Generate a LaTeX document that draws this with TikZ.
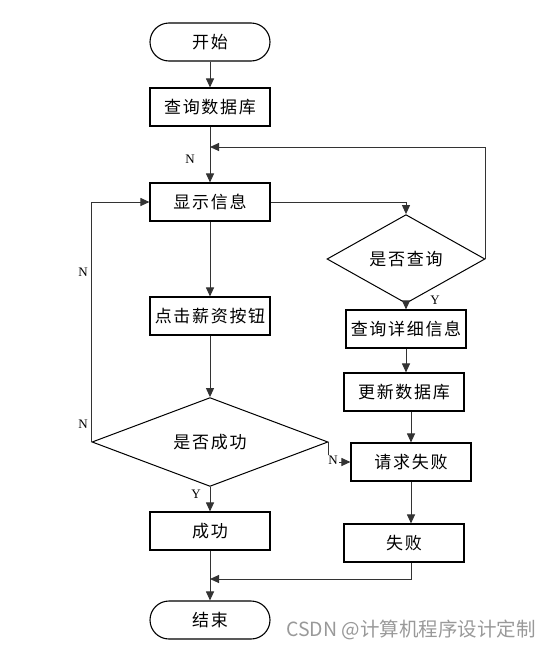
\documentclass[tikz,border=0pt]{standalone}
\usepackage{fontspec}
\setmainfont{Liberation Serif}
\newfontfamily\cjk[LetterSpace=10]{Noto Sans CJK SC}
\newfontfamily\cjkmark{Noto Sans CJK SC}
\usetikzlibrary{shapes.geometric, arrows.meta, positioning}

\tikzset{
  box/.style={draw=black, line width=1.1pt, minimum width=120pt, minimum height=38pt, inner sep=0pt, font=\cjk\fontsize{17}{20}\selectfont},
  term/.style={box, rounded corners=19pt},
  decision/.style={draw=black, line width=1pt, diamond, minimum width=236pt, minimum height=62pt, inner sep=0pt, font=\cjk\fontsize{17}{20}\selectfont},
  line/.style={draw=black!80, line width=1pt, -{Triangle[length=9pt, width=8pt]}},
  lbl/.style={inner sep=1pt, font=\fontsize{13}{15}\selectfont}
}

\begin{document}
\begin{tikzpicture}[x=1pt, y=-1pt]
\useasboundingbox (0,0) rectangle (551,648);
\node[term] (start) at (210,42) {开始};
\node[box] (query) at (210,107) {查询数据库};
\node[box] (show) at (210,202) {显示信息};
\node[box] (click) at (210,316) {点击薪资按钮};
\node[decision] (ok) at (210,442) {是否成功};
\node[box] (succ) at (210,531) {成功};
\node[term] (end) at (210,620) {结束};
\node[decision, minimum width=158pt] (ask) at (406,259) {是否查询};
\node[box] (detail) at (406,329) {查询详细信息};
\node[box] (update) at (404,392) {更新数据库};
\node[box] (req) at (411,462) {请求失败};
\node[box] (fail) at (404,543) {失败};
\coordinate (back) at (210,147);
\coordinate (join) at (210,579);
\draw[line] (start) -- (query);
\draw[line] (query) -- (show);
\draw[line] (show.east) -| (ask.north);
\draw[line] (ask.east) |- (back);
\draw[line] (ask) -- (detail);
\draw[line] (detail.south) -- (detail.south |- update.north);
\draw[line] (req.north |- update.south) -- (req.north);
\draw[line] (req.south) -- (req.south |- fail.north);
\draw[line] (show) -- (click);
\draw[line] (click) -- (ok);
\draw[line] (ok.west) |- (show.west);
\draw[line] (ok) -- (succ);
\draw[line] (ok.east) |- (req.west);
\draw[line] (succ) -- (end);
\draw[line] (fail.south -| req.south) |- (join);
\node[lbl] (n1) at (190,159) {N};
\node[lbl] (n2) at (83,272) {N};
\node[lbl] (n3) at (83,424) {N};
\node[lbl, fill=white] (n4) at (333,460) {N};
\node[lbl] (y1) at (435,300) {Y};
\node[lbl] (y2) at (196,494) {Y};
\node[text=black!40, font=\cjkmark\fontsize{19.5}{22}\selectfont] (mark) at (411,630) {CSDN @计算机程序设计定制};
\end{tikzpicture}
\end{document}
